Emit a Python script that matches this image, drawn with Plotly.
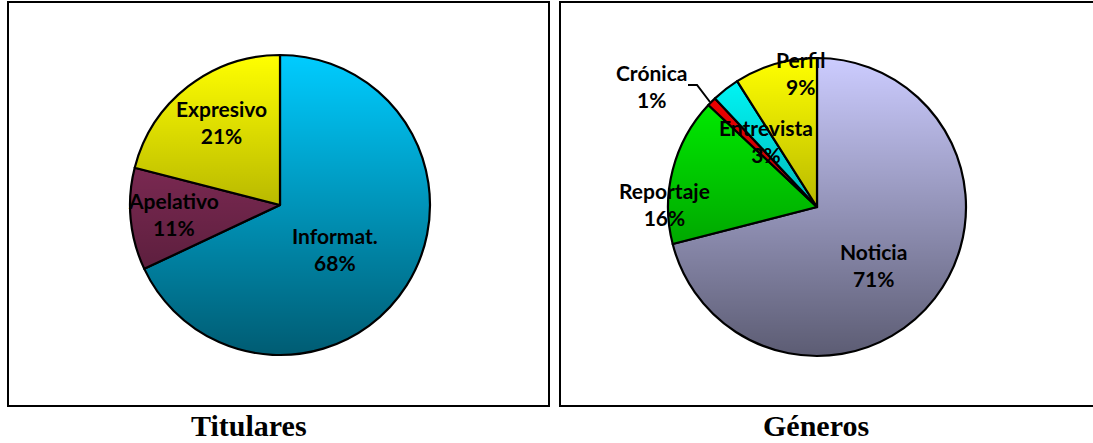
import base64
import plotly.graph_objects as go

# ---- data ----
tit_labels = ["Informat.", "Apelativo", "Expresivo"]
tit_values = [68, 11, 21]
tit_colors = ["#00CCFF", "#993366", "#FFFF00"]

gen_labels = ["Noticia", "Reportaje", "Crónica", "Entrevista", "Perfil"]
gen_values = [71, 16, 1, 3, 9]
gen_colors = ["#CCCCFF", "#00FF00", "#FF0000", "#00FFFF", "#FFFF00"]

titles = ["Titulares", "Géneros"]

# ---- label placement (pixels, centre of each two-line label) ----
tit_label_pos = [(335, 249), (173, 214), (221, 122)]
gen_label_pos = [(873, 265), (664, 204), (651, 86), (766, 141), (800, 73)]

W, H = 1093, 443
LABEL_FONT = dict(family="Lato, 'Open Sans', sans-serif", size=21, color="black")


def px_dom(x0, x1, y0, y1):
    return dict(x=[x0 / W, x1 / W], y=[1 - y1 / H, 1 - y0 / H])


dom_left = px_dom(130, 430, 55, 355)
dom_right = px_dom(668, 966, 58, 356)

fig = go.Figure()
fig.add_trace(go.Pie(
    labels=tit_labels, values=tit_values, sort=False, direction="clockwise", rotation=0,
    marker=dict(colors=tit_colors, line=dict(color="black", width=2.2)),
    textinfo="none", domain=dom_left, showlegend=False, hoverinfo="label+percent",
))
fig.add_trace(go.Pie(
    labels=gen_labels, values=gen_values, sort=False, direction="clockwise", rotation=0,
    marker=dict(colors=gen_colors, line=dict(color="black", width=2.2)),
    textinfo="none", domain=dom_right, showlegend=False, hoverinfo="label+percent",
))

# vertical shading overlay (gradient effect)
svg = ("<svg xmlns='http://www.w3.org/2000/svg' width='200' height='200' viewBox='0 0 200 200'>"
       "<defs><linearGradient id='g' x1='0' y1='0' x2='0' y2='1'>"
       "<stop offset='0' stop-color='black' stop-opacity='0'/>"
       "<stop offset='1' stop-color='black' stop-opacity='0.55'/>"
       "</linearGradient></defs><circle cx='100' cy='100' r='100' fill='url(#g)'/></svg>")
uri = "data:image/svg+xml;base64," + base64.b64encode(svg.encode()).decode()
images = []
for d in (dom_left, dom_right):
    images.append(dict(source=uri, xref="paper", yref="paper", x=d["x"][0], y=d["y"][1],
                       sizex=d["x"][1] - d["x"][0], sizey=d["y"][1] - d["y"][0],
                       xanchor="left", yanchor="top", sizing="stretch", layer="above"))


def px(x, y):
    return x / W, 1 - y / H


shapes = [
    dict(type="rect", xref="paper", yref="paper", x0=8 / W, x1=549 / W, y0=1 - 406 / H, y1=1 - 2 / H,
         line=dict(color="black", width=2), fillcolor="rgba(0,0,0,0)", layer="below"),
    dict(type="rect", xref="paper", yref="paper", x0=560 / W, x1=1.01, y0=1 - 406 / H, y1=1 - 2 / H,
         line=dict(color="black", width=2), fillcolor="rgba(0,0,0,0)", layer="below"),
]
# leader line for the small "Crónica" slice
lp = [px(688, 85), px(697, 85), px(710, 102)]
shapes.append(dict(type="path", xref="paper", yref="paper",
                   path="M %f,%f L %f,%f L %f,%f" % (lp[0] + lp[1] + lp[2]),
                   line=dict(color="black", width=2)))

annotations = []
for labels, values, poss in ((tit_labels, tit_values, tit_label_pos), (gen_labels, gen_values, gen_label_pos)):
    tot = sum(values)
    for lab, v, (x, y) in zip(labels, values, poss):
        pct = round(100 * v / tot)
        annotations.append(dict(text="<b>%s</b><br><b>%d%%</b>" % (lab, pct), x=x / W, y=1 - y / H,
                                xref="paper", yref="paper", showarrow=False,
                                xanchor="center", yanchor="middle", align="center", font=LABEL_FONT))

for t, xc in zip(titles, [249, 816]):
    annotations.append(dict(text="<b>%s</b>" % t, x=xc / W, y=1 - 425 / H, xref="paper", yref="paper",
                            showarrow=False, xanchor="center", yanchor="middle",
                            font=dict(family="'Liberation Serif', 'Times New Roman', serif", size=30, color="black")))

fig.update_layout(
    width=W, height=H, margin=dict(l=0, r=0, t=0, b=0),
    paper_bgcolor="white", plot_bgcolor="white",
    shapes=shapes, annotations=annotations, images=images,
)

fig.write_html("out.html", config={"displayModeBar": False},
               post_script="document.body.style.margin='0';")
